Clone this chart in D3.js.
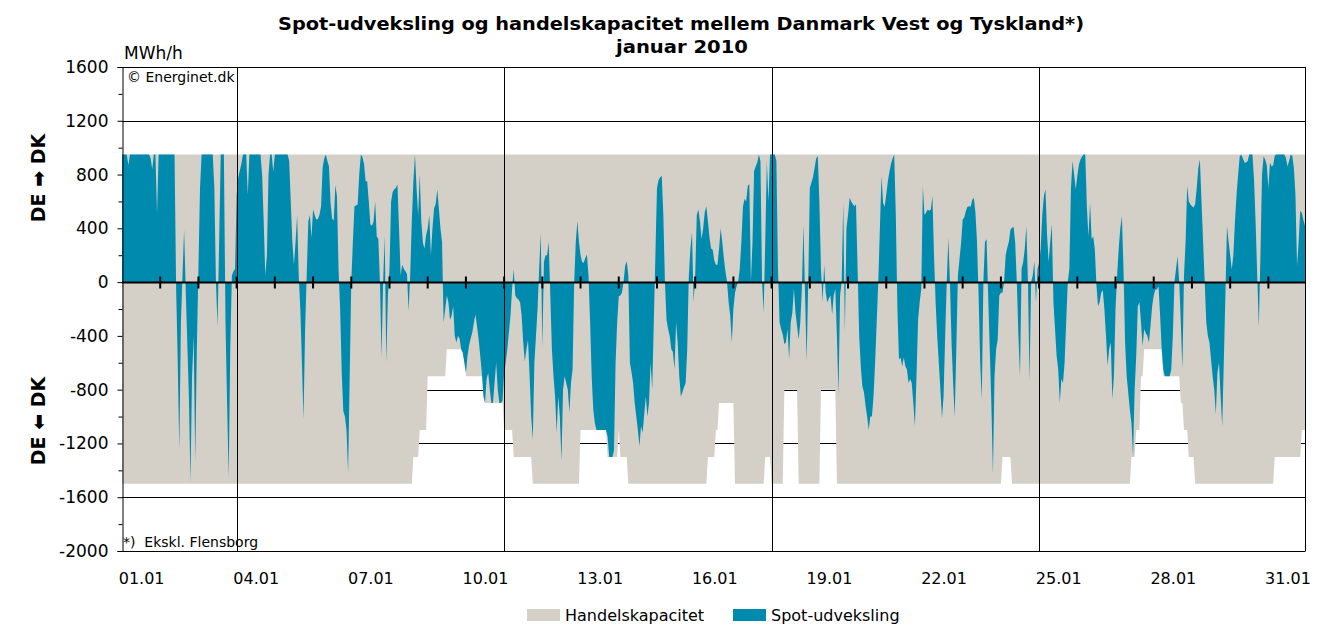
<!DOCTYPE html>
<html><head><meta charset="utf-8">
<script src="https://cdn.jsdelivr.net/npm/d3@7"></script>
<style>
body{margin:0;background:#fff}
svg{display:block}
text{font-family:"DejaVu Sans",Verdana,sans-serif;fill:#000}
</style>
</head><body>
<svg id="c" width="1342" height="632"></svg>
<script>
// ---------- DATA ----------
const titleLines = ["Spot-udveksling og handelskapacitet mellem Danmark Vest og Tyskland*)", "januar 2010"];
const dayLabels = ["01.01","04.01","07.01","10.01","13.01","16.01","19.01","22.01","25.01","28.01","31.01"];
const dayLabelIndex = [0,3,6,9,12,15,18,21,24,27,30];
const weekLineDays = [3,10,17,24];          // Mondays 04.01, 11.01, 18.01, 25.01
const yTicks = [1600,1200,800,400,0,-400,-800,-1200,-1600,-2000];
const yMinorTicks = [1400,1000,600,200,-200,-600,-1000,-1400,-1800];
const seriesNames = ["Handelskapacitet","Spot-udveksling"];

// trading capacity DE -> DK (MWh/h), constant over the month
const exportCapacity = 950;
// trading capacity DK -> DE: step changes (start hour of month, value)
const importCapStart = [0,183,187,192,204,216,228,240,246,258,288,305,312,313,318,368,373,375,385,404,408,416,425,439,449,553,559,634,637,640,642,654,665,667,670,674,724,741];
const importCapValue = [-1500,-1300,-1100,-700,-500,-700,-900,-1100,-1300,-1500,-1100,-1300,-1100,-1300,-1500,-1300,-1100,-900,-1500,-1300,-1500,-800,-1500,-800,-1500,-1300,-1500,-1300,-1100,-700,-500,-700,-900,-1100,-1300,-1500,-1300,-1100];

// hourly spot exchange, one row per day (hours 0..23)
const spotByDay = [
 [950,950,950,950,870,950,950,950,950,950,950,950,950,950,950,950,950,950,920,840,950,950,510,950],
 [950,950,950,950,950,950,950,950,950,950,-50,-600,-1250,-300,50,390,-50,-450,-850,-1490,-700,-400,-1330,-500],
 [100,700,950,950,950,950,950,950,950,950,700,0,-330,300,950,950,950,-300,-900,-1455,-500,50,80,100],
 [650,780,830,880,950,950,950,650,950,950,950,950,950,950,950,950,800,450,50,200,800,950,950,820],
 [950,950,950,950,950,950,950,950,950,900,600,300,130,300,500,50,-200,-600,-1020,-350,50,450,500,330],
 [540,500,466,470,500,560,850,920,950,900,860,590,470,460,720,640,100,-200,-675,-960,-1000,-1100,-1420,-700],
 [0,300,565,570,580,800,950,930,880,750,750,600,430,420,450,600,340,320,0,-563,0,340,-600,-100],
 [100,600,670,690,700,727,400,50,130,100,80,60,-215,50,450,750,950,700,500,800,450,290,250,350],
 [400,500,200,400,550,580,690,550,400,300,-300,-200,-100,-150,-280,-250,-180,-400,-450,-400,-420,-500,-525,-600],
 [-675,-550,-470,-420,-375,-300,-240,-330,-427,-550,-675,-850,-900,-720,-675,-800,-900,-900,-750,-600,-800,-900,-900,-880],
 [-675,-600,-500,-375,-250,-50,95,-100,-120,-130,-150,-250,-450,-590,-500,-430,-700,-1000,-1170,-600,-400,-200,100,367],
 [-490,150,200,200,300,-100,-500,-700,-850,-1120,-850,-1000,-1330,-800,-700,-750,-800,-970,-750,-650,0,300,454,300],
 [200,150,144,180,205,50,-300,-700,-950,-1050,-1100,-1100,-1100,-1100,-1100,-1100,-1100,-1150,-1300,-1300,-1300,-1250,-600,-300],
 [-105,-100,-80,0,120,156,50,-600,-670,-750,-900,-1000,-1100,-1220,-1070,-1120,-980,-850,-1000,-900,-600,-800,-300,200],
 [700,760,780,790,500,0,-280,-350,-400,-500,-520,-650,-300,-450,-700,-850,-820,-780,-750,-500,50,250,370,-150],
 [50,500,540,450,320,400,520,565,450,330,250,240,160,130,130,250,400,300,180,80,0,-150,-250,-450],
 [-200,-80,-30,0,100,300,560,620,600,715,730,0,300,826,860,890,950,900,0,-228,300,900,600,950],
 [950,950,950,900,100,-300,-350,-390,-460,-450,-350,-575,-300,-230,-50,-228,-330,-427,-300,-50,430,-100,-590,0],
 [700,740,780,850,920,940,600,100,-150,130,-80,-150,-120,-100,-240,-100,-50,-400,-835,-100,0,590,-375,400],
 [500,627,600,580,565,580,100,-400,-625,-775,-820,-920,-1000,-1100,-1000,-1000,-850,-600,-300,0,400,790,590,560],
 [650,750,820,880,920,950,500,-200,-575,-560,-625,-560,-625,-650,-750,-720,-750,-900,-1070,-700,-280,-150,-50,715],
 [500,516,540,530,540,640,200,-150,-400,-600,-800,-1010,-850,-400,0,330,0,-450,-750,-1000,-500,50,170,293],
 [466,480,528,560,565,560,610,627,520,300,-100,-600,-875,0,300,318,-100,-500,-900,-1430,-700,-500,-427,-100],
 [-80,-80,0,200,255,300,390,404,410,290,0,-400,-700,100,150,250,417,0,-737,0,50,156,-150,100],
 [144,250,500,640,690,350,150,300,430,-150,-350,-550,-650,-900,-720,-750,-600,-300,0,100,700,900,800,690],
 [790,875,912,935,950,950,560,340,590,320,340,243,-20,-180,-150,-80,-60,-200,-400,-620,-500,-450,-870,-700],
 [-200,50,250,400,490,100,-450,-700,-825,-950,-1050,-1295,-800,-550,-180,-150,-300,-475,-350,-380,-400,-450,-320,-180],
 [-100,-55,-55,-30,-250,-500,-650,-700,-700,-700,-700,-650,-400,0,100,193,0,-300,-650,50,300,715,600,580],
 [565,555,580,700,850,912,600,300,0,-300,-400,-450,-580,-700,-800,-985,-675,-600,-850,-1070,-600,-100,417,300],
 [200,94,200,450,650,800,937,950,920,890,890,900,950,950,950,760,440,50,-340,200,800,937,912,870],
 [700,890,860,870,940,950,950,950,950,950,950,925,860,900,950,940,850,650,120,300,528,515,460,420]
];

// ---------- CHART ----------
const colCap = "#D4D0C8", colSpot = "#008BAE";
const FONT = "DejaVu Sans, Verdana, sans-serif";
const svg = d3.select("#c");
const L = 122, R = 1305, T = 67, B = 551;
const spot = spotByDay.flat();
const nH = spot.length;
const x = d3.scaleLinear().domain([0, nH - 1]).range([L, R]);
const y = d3.scaleLinear().domain([-2000, 1600]).range([B, T]);

const capAt = h => { let v = importCapValue[0]; importCapStart.forEach((s, i) => { if (h >= s) v = importCapValue[i]; }); return v; };
const rows = spot.map((v, i) => ({ h: i, spot: v, lo: capAt(i), hi: exportCapacity }));

// horizontal grid (behind areas)
svg.append("g").selectAll("line").data(yTicks).join("line")
  .attr("x1", L).attr("x2", R)
  .attr("y1", d => Math.round(y(d)) + 0.5).attr("y2", d => Math.round(y(d)) + 0.5)
  .attr("stroke", "#000").attr("stroke-width", 1);

// capacity area
svg.append("path").datum(rows)
  .attr("fill", colCap)
  .attr("d", d3.area().x(d => x(d.h)).y0(d => y(d.lo)).y1(d => y(d.hi)));

// spot area
svg.append("path").datum(rows)
  .attr("fill", colSpot)
  .attr("d", d3.area().x(d => x(d.h)).y0(y(0)).y1(d => y(d.spot)));

// week lines
svg.append("g").selectAll("line").data(weekLineDays).join("line")
  .attr("x1", d => Math.round(x(d * 24)) + 0.5).attr("x2", d => Math.round(x(d * 24)) + 0.5)
  .attr("y1", T).attr("y2", B)
  .attr("stroke", "#000").attr("stroke-width", 1);

// zero line with day ticks
const y0 = Math.round(y(0)) + 0.5;
svg.append("line").attr("x1", L).attr("x2", R).attr("y1", y0).attr("y2", y0)
  .attr("stroke", "#000").attr("stroke-width", 2);
svg.append("g").selectAll("line").data(d3.range(1, 31)).join("line")
  .attr("x1", d => x(d * 24)).attr("x2", d => x(d * 24))
  .attr("y1", y0 - 6).attr("y2", y0 + 6)
  .attr("stroke", "#000").attr("stroke-width", 2);

// right border
svg.append("line").attr("x1", R + 0.5).attr("x2", R + 0.5).attr("y1", T).attr("y2", B)
  .attr("stroke", "#000").attr("stroke-width", 1);

// y axis
const yAxis = svg.append("g").attr("transform", `translate(${L + 0.5},0)`)
  .call(d3.axisLeft(y).tickValues(yTicks).tickSize(5).tickPadding(9).tickFormat(d => String(d)));
yAxis.select(".domain").attr("stroke", "#000");
yAxis.selectAll("text").style("font-size", "17px").style("font-family", FONT);
svg.append("g").attr("transform", `translate(${L + 0.5},0)`)
  .call(d3.axisLeft(y).tickValues(yMinorTicks).tickSize(4).tickFormat(""))
  .select(".domain").remove();

// x axis labels (centred in day)
const xAxis = svg.append("g").attr("transform", `translate(0,${B})`)
  .call(d3.axisBottom(x).tickValues(dayLabelIndex.map(d => d * 24 + 12)).tickSize(0).tickPadding(22)
    .tickFormat((d, i) => dayLabels[i]));
xAxis.select(".domain").attr("stroke", "#000");
xAxis.selectAll("text").style("font-size", "16px").style("font-family", FONT);

// titles
svg.append("text").attr("x", 681).attr("y", 30).attr("text-anchor", "middle")
  .attr("textLength", 806).attr("lengthAdjust", "spacingAndGlyphs")
  .style("font-size", "18px").style("font-weight", "bold").text(titleLines[0]);
svg.append("text").attr("x", 682).attr("y", 53).attr("text-anchor", "middle")
  .attr("textLength", 132).attr("lengthAdjust", "spacingAndGlyphs")
  .style("font-size", "18px").style("font-weight", "bold").text(titleLines[1]);

svg.append("text").attr("x", 124).attr("y", 59).style("font-size", "17px").text("MWh/h");
svg.append("text").attr("x", 127).attr("y", 82).style("font-size", "14px").text("© Energinet.dk");
svg.append("text").attr("x", 123).attr("y", 547).style("font-size", "14px")
  .text("*)\u00A0\u00A0Ekskl. Flensborg");

// rotated axis titles
svg.append("text").attr("transform", "translate(45,178) rotate(-90)").attr("text-anchor", "middle")
  .style("font-size", "19px").style("font-weight", "bold").text("DE \u27A1 DK");
svg.append("text").attr("transform", "translate(45,421) rotate(-90)").attr("text-anchor", "middle")
  .style("font-size", "19px").style("font-weight", "bold").text("DE \u2B05 DK");

// legend
const lg = svg.append("g");
const legendX = [527, 733];
[colCap, colSpot].forEach((c, i) => {
  lg.append("rect").attr("x", legendX[i]).attr("y", 609).attr("width", 33).attr("height", 12).attr("fill", c);
  lg.append("text").attr("x", legendX[i] + 38).attr("y", 621).style("font-size", "16px").text(seriesNames[i]);
});
</script>
</body></html>
